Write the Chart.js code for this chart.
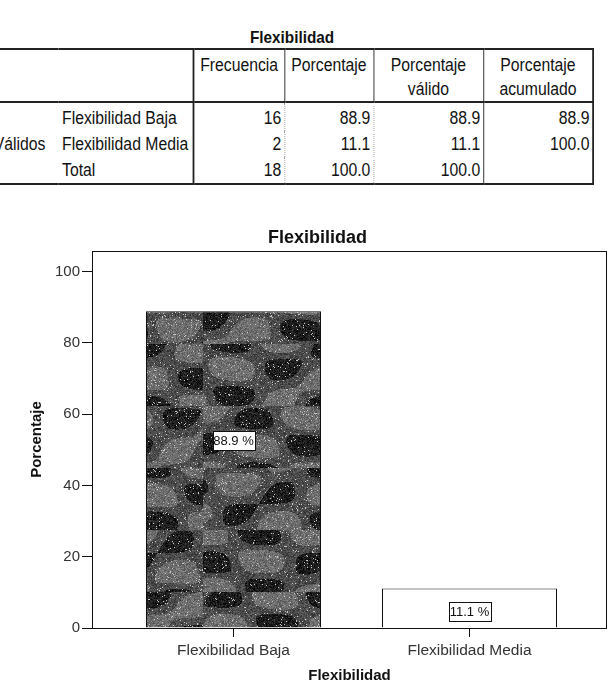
<!DOCTYPE html>
<html lang="es">
<head>
<meta charset="utf-8">
<title>Flexibilidad</title>
<script src="https://cdn.jsdelivr.net/npm/chart.js@4.4.1/dist/chart.umd.min.js"></script>
<style>
  html, body { margin: 0; padding: 0; background: #fff; }
  body {
    width: 614px; height: 690px; position: relative; overflow: hidden; color: #111;
    font-family: "Liberation Sans", Arial, sans-serif;
  }
  /* SPSS uses a narrow face: squeeze Arial horizontally */
  .tbl-wrap { position: absolute; left: 0; top: 0; transform: scaleX(0.9); transform-origin: 0 0; }
  .tbl-title {
    position: absolute; left: 0; top: 27px; width: 649px; text-align: center;
    font-weight: bold; font-size: 17px; line-height: 22px;
  }
  #freqTable {
    position: absolute; left: -11px; top: 48px; border-collapse: collapse;
    table-layout: fixed; width: 670px; font-size: 17.5px;
  }
  #freqTable td { padding: 0 4px; white-space: nowrap; overflow: hidden; }
  #freqTable thead td {
    height: 44px; vertical-align: top; text-align: center; line-height: 24px; padding-top: 3px;
    border-top: 2px solid #222; border-bottom: 2px solid #222; border-right: 1px solid #222;
  }
  #freqTable tbody td { line-height: 26px; height: 26px; }
  #freqTable tbody tr:first-child td { height: 27px; padding-top: 1px; }
  #freqTable tbody tr:last-child td { border-bottom: 2px solid #222; }
  #freqTable td.num { text-align: right; padding-right: 3px; }
  #freqTable td.dot { border-right: 1px dotted #999; }
  #freqTable td.sol { border-right: 1px solid #222; }
  #freqTable td.thick { border-right: 2px solid #222 !important; }
  .chart-box { position: absolute; left: 28px; top: 220px; width: 586px; height: 470px; }
</style>
</head>
<body>
<div class="tbl-wrap">
  <div class="tbl-title">Flexibilidad</div>
  <table id="freqTable">
    <colgroup>
      <col style="width:76px"><col style="width:150px"><col style="width:101px">
      <col style="width:99px"><col style="width:122px"><col style="width:122px">
    </colgroup>
    <thead><tr id="headRow"></tr></thead>
    <tbody id="bodyRows"></tbody>
  </table>
</div>
<div class="chart-box"><canvas id="flexChart"></canvas></div>

<script>
// ── Data ──
const categories = ['Flexibilidad Baja', 'Flexibilidad Media'];
const frequencies = [16, 2];
const percentages = [88.9, 11.1];
const validPercentages = [88.9, 11.1];
const cumulativePercentages = [88.9, 100.0];
const totalRow = [18, 100.0, 100.0];
const tableHeaders = ['Frecuencia', 'Porcentaje', 'Porcentaje<br>válido', 'Porcentaje<br>acumulado'];
const yTicks = [0, 20, 40, 60, 80, 100];

const FONT = "'Liberation Sans', Arial, sans-serif";

// ── Frequency table ──
function buildTable() {
  const head = document.getElementById('headRow');
  head.innerHTML = '<td colspan="2" class="thick"></td>' +
    tableHeaders.map((h, i) => `<td${i === tableHeaders.length - 1 ? ' class="thick"' : ''}>${h}</td>`).join('');

  const rows = categories.map((c, i) => [c, frequencies[i], percentages[i].toFixed(1),
    validPercentages[i].toFixed(1), cumulativePercentages[i].toFixed(1)]);
  rows.push(['Total', totalRow[0], totalRow[1].toFixed(1), totalRow[2].toFixed(1), '']);

  document.getElementById('bodyRows').innerHTML = rows.map((r, i) => `<tr>
    ${i === 0 ? '<td rowspan="3" style="border-bottom:2px solid #222">Válidos</td>' : ''}
    <td class="thick">${r[0]}</td>
    <td class="num dot">${r[1]}</td>
    <td class="num dot">${r[2]}</td>
    <td class="num sol">${r[3]}</td>
    <td class="num thick">${r[4]}</td>
  </tr>`).join('');
}

// grey mottled fill like the SPSS bar texture
function camoPattern() {
  const w = 175, band = 62, h = band * 6;
  const c = document.createElement('canvas');
  c.width = w; c.height = h;
  const g = c.getContext('2d');
  const img = g.createImageData(w, h);
  let seed = 12345;
  const rnd = () => (seed = (seed * 16807) % 2147483647) / 2147483647;
  for (let y = 0; y < h; y++) {
    const b = Math.floor(y / band), v = y % band;
    for (let x = 0; x < w; x++) {
      const u = x + b * 57;
      const t = Math.sin((u + v * 1.8) / 17) + 0.8 * Math.sin((u * 0.8 - v * 1.2) / 11 + b * 1.7)
        + 0.5 * Math.sin(v / 7 - u / 29);
      let lum = t > 0.7 ? 32 : t > -0.5 ? 78 : 112;
      const r = rnd();
      if (r < 0.035) lum = 200;
      else if (r < 0.3) lum -= 26;
      else if (r < 0.46) lum += 26;
      const k = (y * w + x) * 4;
      img.data[k] = img.data[k + 1] = img.data[k + 2] = Math.max(0, lum);
      img.data[k + 3] = 255;
    }
  }
  g.putImageData(img, 0, 0);
  return g.createPattern(c, 'repeat');
}

// box around the plot area
const framePlugin = {
  id: 'frame',
  afterDatasetsDraw(chart) {
    const { ctx, chartArea: a } = chart;
    ctx.save();
    ctx.strokeStyle = '#111';
    ctx.lineWidth = 1;
    ctx.strokeRect(a.left + 0.5, a.top + 0.5, a.right - a.left - 1, a.bottom - a.top);
    ctx.restore();
  }
};

// boxed percentage labels inside the bars
const barLabelPlugin = {
  id: 'barLabels',
  afterDraw(chart) {
    const { ctx } = chart;
    const yScale = chart.scales.y;
    const labelAt = [52.7, 4.6];
    ctx.save();
    ctx.font = `13px ${FONT}`;
    ctx.textAlign = 'center';
    ctx.textBaseline = 'middle';
    chart.getDatasetMeta(0).data.forEach((bar, i) => {
      const text = percentages[i].toFixed(1) + ' %';
      const cy = yScale.getPixelForValue(labelAt[i]);
      const w = Math.round(ctx.measureText(text).width) + 2, h = 19;
      const x0 = Math.round(bar.x - w / 2) + 0.5, y0 = Math.round(cy - h / 2) + 0.5;
      ctx.fillStyle = '#fff';
      ctx.fillRect(x0, y0, w, h);
      ctx.strokeStyle = '#111';
      ctx.strokeRect(x0, y0, w, h);
      ctx.fillStyle = '#111';
      ctx.fillText(text, bar.x, cy + 1);
    });
    ctx.restore();
  }
};

buildTable();

new Chart(document.getElementById('flexChart'), {
  type: 'bar',
  data: {
    datasets: [{
      label: 'Porcentaje',
      data: percentages.map((p, i) => ({ x: i, y: p })),
      backgroundColor: [camoPattern(), '#ffffff'],
      borderColor: '#111',
      borderWidth: 1,
      barPercentage: 0.7415,
      categoryPercentage: 1
    }]
  },
  options: {
    responsive: true,
    maintainAspectRatio: false,
    animation: false,
    layout: { padding: { left: 0, right: 7, top: 0, bottom: 0 } },
    plugins: {
      legend: { display: false },
      tooltip: { enabled: false },
      title: {
        display: true,
        text: 'Flexibilidad',
        color: '#111',
        font: { family: FONT, size: 18, weight: 'bold', lineHeight: 1.2 },
        padding: { top: 7, bottom: 2.4 }
      }
    },
    scales: {
      x: {
        type: 'linear',
        offset: false,
        min: -0.59958,
        max: 1.58262,
        afterBuildTicks: s => { s.ticks = categories.map((c, i) => ({ value: i })); },
        afterFit: s => { s.height = 62; },
        ticks: {
          callback: v => categories[v],
          color: '#333',
          font: { family: FONT, size: 15.5, lineHeight: 1.2 },
          padding: 4,
          maxRotation: 0,
          autoSkip: false
        },
        grid: { offset: false, drawOnChartArea: false, tickLength: 9, color: '#111' },
        border: { display: false },
        title: {
          display: true,
          text: 'Flexibilidad',
          color: '#111',
          font: { family: FONT, size: 15, weight: 'bold', lineHeight: 1.2 },
          padding: { top: 0, bottom: 5 }
        }
      },
      y: {
        min: 0,
        max: 105.8,
        afterBuildTicks: s => { s.ticks = yTicks.map(v => ({ value: v })); },
        afterFit: s => { s.width = 64; },
        ticks: {
          color: '#333',
          font: { family: FONT, size: 15, lineHeight: 1.2 },
          padding: 2
        },
        grid: { drawOnChartArea: false, tickLength: 10, color: '#111' },
        border: { display: false },
        title: {
          display: true,
          text: 'Porcentaje',
          color: '#111',
          font: { family: FONT, size: 15, weight: 'bold', lineHeight: 1.2 },
          padding: { top: 0, bottom: 0 }
        }
      }
    }
  },
  plugins: [framePlugin, barLabelPlugin]
});
</script>
</body>
</html>
